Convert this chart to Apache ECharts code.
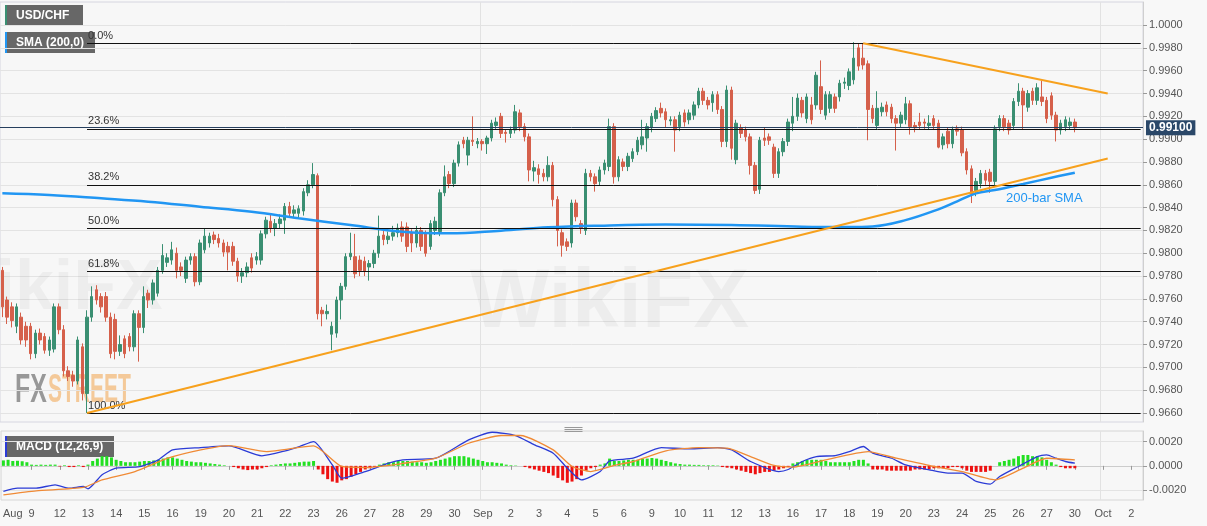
<!DOCTYPE html>
<html><head><meta charset="utf-8">
<script src="https://cdn.jsdelivr.net/npm/echarts@6/dist/echarts.min.js"></script>
<style>html,body{margin:0;padding:0;background:#f8f8f8}#c{width:1207px;height:526px}</style>
</head><body><div id="c"></div>
<script>
// ---------- DATA ----------
const dayLabels = ['9','12','13','14','15','16','19','20','21','22','23','26','27','28','29','30','Sep','2','3','4','5','6','9','10','11','12','13','16','17','18','19','20','23','24','25','26','27','30','Oct','2'];
const monthLabel = 'Aug';
const yTicks = [0.966,0.968,0.970,0.972,0.974,0.976,0.978,0.980,0.982,0.984,0.986,0.988,0.990,0.992,0.994,0.996,0.998,1.000];
const macdTicks = [-0.002,0,0.002];

const openP = [
0.9785,0.9759,0.9753,0.9736,0.9744,0.9736,0.9736,0.9712,0.9730,0.9727,
0.9715,0.9716,0.9753,0.9733,0.9697,0.9693,0.9688,0.9718,0.9677,0.9744,
0.9768,0.9762,0.9762,0.9744,0.9742,0.9714,0.9725,0.9727,0.9718,0.9747,
0.9735,0.9765,0.9759,0.9765,0.9785,0.9792,0.9794,0.9800,0.9788,0.9778,
0.9794,0.9797,0.9775,0.9803,0.9809,0.9816,0.9813,0.9809,0.9806,0.9806,
0.9793,0.9780,0.9783,0.9796,0.9794,0.9794,0.9817,0.9828,0.9822,0.9826,
0.9829,0.9841,0.9835,0.9835,0.9837,0.9853,0.9860,0.9868,0.9750,0.9747,
0.9729,0.9730,0.9759,0.9771,0.9797,0.9797,0.9794,0.9793,0.9788,0.9791,
0.9800,0.9816,0.9812,0.9815,0.9818,0.9823,0.9823,0.9818,0.9809,0.9820,
0.9817,0.9806,0.9820,0.9819,0.9853,0.9869,0.9861,0.9879,0.9899,0.9886,
0.9899,0.9896,0.9898,0.9896,0.9901,0.9912,0.9920,0.9906,0.9905,0.9908,
0.9923,0.9911,0.9902,0.9872,0.9874,0.9870,0.9867,0.9877,0.9847,0.9818,
0.9810,0.9809,0.9844,0.9826,0.9820,0.9870,0.9867,0.9863,0.9873,0.9876,
0.9911,0.9867,0.9880,0.9876,0.9883,0.9889,0.9895,0.9901,0.9910,0.9918,
0.9927,0.9924,0.9916,0.9917,0.9911,0.9923,0.9917,0.9921,0.9930,0.9942,
0.9934,0.9932,0.9939,0.9926,0.9898,0.9943,0.9882,0.9910,0.9908,0.9902,
0.9877,0.9856,0.9901,0.9902,0.9893,0.9870,0.9889,0.9898,0.9914,0.9920,
0.9934,0.9918,0.9930,0.9930,0.9946,0.9921,0.9927,0.9937,0.9937,0.9949,
0.9947,0.9952,0.9980,0.9971,0.9966,0.9927,0.9912,0.9924,0.9930,0.9928,
0.9918,0.9914,0.9917,0.9931,0.9912,0.9915,0.9915,0.9912,0.9918,0.9914,
0.9895,0.9907,0.9896,0.9909,0.9908,0.9889,0.9874,0.9855,0.9861,0.9870,
0.9871,0.9863,0.9911,0.9918,0.9914,0.9912,0.9933,0.9942,0.9928,0.9942,
0.9934,0.9937,0.9934,0.9938,0.9921,0.9908,0.9911,0.9912,0.9915];
const closeP = [
0.9753,0.9744,0.9741,0.9753,0.9724,0.9724,0.9712,0.9730,0.9724,0.9715,
0.9724,0.9753,0.9733,0.9697,0.9692,0.9688,0.9724,0.9677,0.9744,0.9762,
0.9759,0.9753,0.9744,0.9712,0.9714,0.9720,0.9712,0.9718,0.9747,0.9735,
0.9762,0.9759,0.9774,0.9785,0.9798,0.9796,0.9803,0.9785,0.9785,0.9794,
0.9797,0.9775,0.9809,0.9815,0.9815,0.9812,0.9809,0.9801,0.9801,0.9793,
0.9780,0.9783,0.9788,0.9787,0.9797,0.9817,0.9829,0.9822,0.9826,0.9830,
0.9841,0.9835,0.9838,0.9839,0.9854,0.9860,0.9869,0.9747,0.9747,0.9749,
0.9736,0.9759,0.9771,0.9797,0.9800,0.9782,0.9785,0.9784,0.9791,0.9800,
0.9815,0.9812,0.9815,0.9818,0.9822,0.9815,0.9806,0.9809,0.9820,0.9806,
0.9800,0.9826,0.9828,0.9853,0.9867,0.9861,0.9879,0.9895,0.9896,0.9899,
0.9898,0.9898,0.9896,0.9901,0.9914,0.9915,0.9905,0.9905,0.9908,0.9924,
0.9911,0.9902,0.9873,0.9875,0.9869,0.9867,0.9877,0.9847,0.9820,0.9807,
0.9806,0.9844,0.9832,0.9822,0.9870,0.9867,0.9861,0.9873,0.9879,0.9911,
0.9867,0.9882,0.9876,0.9885,0.9889,0.9899,0.9902,0.9911,0.9920,0.9925,
0.9923,0.9917,0.9917,0.9908,0.9921,0.9915,0.9923,0.9930,0.9942,0.9934,
0.9930,0.9939,0.9926,0.9898,0.9943,0.9892,0.9914,0.9905,0.9902,0.9877,
0.9855,0.9899,0.9899,0.9899,0.9870,0.9889,0.9898,0.9915,0.9920,0.9936,
0.9923,0.9937,0.9917,0.9956,0.9926,0.9939,0.9939,0.9927,0.9949,0.9950,
0.9959,0.9971,0.9964,0.9965,0.9926,0.9918,0.9927,0.9928,0.9924,0.9918,
0.9914,0.9921,0.9931,0.9911,0.9910,0.9912,0.9914,0.9914,0.9912,0.9893,
0.9902,0.9896,0.9908,0.9907,0.9888,0.9873,0.9852,0.9863,0.9870,0.9864,
0.9863,0.9909,0.9918,0.9911,0.9908,0.9933,0.9942,0.9930,0.9940,0.9934,
0.9945,0.9933,0.9918,0.9921,0.9908,0.9914,0.9917,0.9915,0.9910];
const lowP = [
0.9744,0.9738,0.9735,0.9730,0.9720,0.9718,0.9707,0.9708,0.9720,0.9712,
0.9710,0.9713,0.9729,0.9692,0.9688,0.9683,0.9685,0.9671,0.9660,0.9740,
0.9755,0.9748,0.9740,0.9708,0.9707,0.9710,0.9708,0.9714,0.9714,0.9705,
0.9730,0.9752,0.9755,0.9762,0.9782,0.9788,0.9790,0.9778,0.9780,0.9774,
0.9790,0.9771,0.9772,0.9800,0.9805,0.9808,0.9805,0.9797,0.9785,0.9789,
0.9775,0.9774,0.9779,0.9783,0.9790,0.9790,0.9813,0.9818,0.9815,0.9822,
0.9817,0.9831,0.9831,0.9830,0.9833,0.9850,0.9857,0.9742,0.9736,0.9742,
0.9715,0.9726,0.9742,0.9768,0.9794,0.9778,0.9780,0.9780,0.9776,0.9787,
0.9796,0.9807,0.9808,0.9811,0.9814,0.9810,0.9801,0.9801,0.9805,0.9802,
0.9797,0.9803,0.9816,0.9815,0.9850,0.9857,0.9858,0.9876,0.9892,0.9877,
0.9894,0.9892,0.9890,0.9887,0.9898,0.9909,0.9901,0.9897,0.9901,0.9905,
0.9907,0.9898,0.9863,0.9863,0.9861,0.9863,0.9863,0.9841,0.9806,0.9797,
0.9802,0.9805,0.9828,0.9817,0.9816,0.9863,0.9854,0.9859,0.9869,0.9872,
0.9861,0.9863,0.9872,0.9872,0.9880,0.9886,0.9891,0.9889,0.9906,0.9915,
0.9919,0.9910,0.9912,0.9889,0.9907,0.9911,0.9913,0.9917,0.9927,0.9930,
0.9926,0.9924,0.9922,0.9893,0.9893,0.9882,0.9878,0.9901,0.9898,0.9869,
0.9852,0.9852,0.9894,0.9895,0.9866,0.9866,0.9885,0.9894,0.9907,0.9916,
0.9919,0.9914,0.9913,0.9926,0.9922,0.9917,0.9923,0.9923,0.9933,0.9944,
0.9943,0.9948,0.9960,0.9961,0.9899,0.9914,0.9908,0.9920,0.9920,0.9914,
0.9890,0.9910,0.9913,0.9904,0.9906,0.9908,0.9909,0.9908,0.9908,0.9892,
0.9891,0.9892,0.9892,0.9903,0.9885,0.9869,0.9844,0.9850,0.9857,0.9860,
0.9853,0.9858,0.9907,0.9907,0.9904,0.9908,0.9929,0.9908,0.9924,0.9930,
0.9930,0.9929,0.9914,0.9917,0.9898,0.9904,0.9907,0.9908,0.9906];
const highP = [
0.9788,0.9762,0.9757,0.9756,0.9748,0.9740,0.9739,0.9733,0.9734,0.9730,
0.9727,0.9756,0.9756,0.9737,0.9701,0.9697,0.9727,0.9721,0.9750,0.9771,
0.9772,0.9765,0.9766,0.9748,0.9747,0.9728,0.9728,0.9730,0.9750,0.9750,
0.9771,0.9768,0.9777,0.9788,0.9808,0.9800,0.9810,0.9805,0.9792,0.9797,
0.9800,0.9800,0.9812,0.9822,0.9818,0.9819,0.9817,0.9812,0.9810,0.9810,
0.9796,0.9787,0.9792,0.9800,0.9801,0.9820,0.9832,0.9834,0.9830,0.9834,
0.9844,0.9845,0.9842,0.9842,0.9857,0.9864,0.9879,0.9870,0.9753,0.9755,
0.9740,0.9762,0.9774,0.9800,0.9818,0.9817,0.9798,0.9797,0.9794,0.9803,
0.9833,0.9820,0.9819,0.9824,0.9826,0.9828,0.9827,0.9821,0.9824,0.9823,
0.9820,0.9829,0.9832,0.9856,0.9877,0.9872,0.9882,0.9898,0.9902,0.9902,
0.9920,0.9901,0.9900,0.9903,0.9917,0.9919,0.9923,0.9908,0.9911,0.9930,
0.9926,0.9914,0.9905,0.9881,0.9878,0.9874,0.9885,0.9880,0.9850,0.9821,
0.9813,0.9847,0.9847,0.9829,0.9874,0.9873,0.9870,0.9876,0.9882,0.9918,
0.9914,0.9885,0.9883,0.9888,0.9892,0.9902,0.9917,0.9914,0.9923,0.9928,
0.9932,0.9927,0.9920,0.9920,0.9924,0.9926,0.9926,0.9933,0.9945,0.9945,
0.9937,0.9942,0.9942,0.9929,0.9947,0.9946,0.9917,0.9913,0.9911,0.9905,
0.9880,0.9902,0.9910,0.9905,0.9896,0.9892,0.9901,0.9918,0.9937,0.9940,
0.9937,0.9940,0.9937,0.9959,0.9969,0.9942,0.9942,0.9940,0.9952,0.9954,
0.9962,0.9985,0.9984,0.9984,0.9969,0.9930,0.9942,0.9932,0.9933,0.9931,
0.9921,0.9924,0.9937,0.9934,0.9915,0.9923,0.9918,0.9921,0.9921,0.9917,
0.9905,0.9910,0.9911,0.9912,0.9911,0.9892,0.9877,0.9866,0.9873,0.9873,
0.9874,0.9912,0.9921,0.9921,0.9917,0.9936,0.9949,0.9945,0.9943,0.9945,
0.9949,0.9951,0.9937,0.9941,0.9924,0.9917,0.9920,0.9919,0.9918];

// 200-bar SMA read at points: [bar index, value]
const smaPts = [[0,0.98525],[10,0.98510],[21,0.98481],[31,0.98452],[42,0.98408],[53,0.98364],[63,0.98306],[74,0.98247],[85,0.98189],[95,0.98175],[106,0.98198],[116,0.98227],[127,0.98242],[141,0.98251],[155,0.98248],[170,0.98233],[180,0.98230],[185,0.98235],[192,0.98290],[199,0.98385],[203,0.98455],[207,0.98525],[211,0.98554],[217,0.98607],[223,0.98662],[228,0.98706]];

// trend lines: [bar index, value]
const supportLine = [[18,0.9660],[235,0.9883]];
const resistLine = [[183,0.9984],[235,0.9940]];

// Fibonacci retracement levels
const fibNames = ['0.0%','23.6%','38.2%','50.0%','61.8%','100.0%'];
const fibLevels = [0.9984,0.9909,0.9860,0.9822,0.9784,0.9660];
const fibStart = 18;
const lastPrice = 0.99100;

// MACD histogram per bar
const macdHist = [
0.00045,0.0005,0.0004,0.00042,0.00038,0.0003,
0.0001,0.00008,0.0001,0.00008,0.0001,0.0001,
-0.00005,0.00005,-0.0001,-0.0001,0.00005,-0.0001,0.0001,
0.0004,0.0006,0.0008,0.0008,0.0007,
0.0005,0.0004,0.0003,0.0003,0.0003,0.00035,0.0004,0.0004,
0.00045,0.0005,0.0006,0.0007,0.0007,0.0006,0.0005,
0.0004,0.00035,0.0003,0.0003,0.00025,0.0002,0.00015,0.0001,
0.00005,0,
-0.0001,-0.0002,-0.0003,-0.00035,-0.0003,-0.0003,-0.0002,-0.0001,
0.00005,0.0001,0.00015,0.0002,0.0002,0.00025,0.0003,0.00035,0.00035,0.0004,
-0.0003,-0.0007,-0.0011,-0.0013,-0.0014,-0.0012,-0.0011,-0.0009,-0.0007,-0.0005,-0.0003,-0.0002,-0.0001,
0.0001,0.0002,0.0003,0.0003,0.0004,
0.0004,0.0004,0.00035,0.0003,0.0003,0.00025,0.0003,
0.0004,0.0005,0.0006,0.0007,0.0008,0.0008,0.0008,0.0007,0.0006,0.0005,
0.0004,0.0003,0.0003,0.00025,0.0002,0.0001,0.00005,
0.00003,0,
-0.0001,-0.0002,-0.0003,-0.0004,-0.0005,-0.0006,-0.0008,-0.001,-0.0012,-0.0014,-0.0013,-0.0011,-0.0008,-0.0004,
-0.0002,-0.0001,
0.0001,0.0002,0.0006,
0.0004,0.0004,0.00045,0.0005,0.0005,0.0005,0.0006,0.0006,0.00065,0.0006,0.0005,0.0004,0.0003,
0.0002,0.00015,0.0001,0.0001,0.00008,0.00008,0.00005,0.00005,0.00005,0.00003,
-0.0001,-0.00015,-0.0002,-0.0003,-0.0004,-0.0005,-0.0006,-0.0007,-0.0006,-0.0005,-0.0005,-0.0004,-0.0003,-0.0002,-0.0001,
0.0002,0.0003,0.0004,0.0005,0.0005,0.0005,0.0005,0.0004,0.0003,0.0003,0.0003,0.0003,0.0003,0.0004,0.0005,0.0005,0.0002,
-0.0003,-0.0003,-0.0003,-0.0004,-0.0004,-0.0004,-0.0004,-0.0004,-0.0004,-0.0003,-0.0003,-0.0003,-0.0003,-0.0002,-0.0002,-0.0002,-0.0002,-0.0001,-0.0001,-0.0002,-0.0004,-0.0005,-0.0005,-0.0005,-0.0005,-0.0004,
0,0.0003,0.0004,0.0005,0.0006,0.0008,0.0009,0.0009,0.0008,0.0008,0.0007,0.0005,0.0003,0.0001,
-0.0001,-0.0002,-0.0002,-0.0002];

// MACD and signal lines read at points: [bar index, value]
const macdPts = [[0,-0.00212],[3,-0.00185],[7,-0.00185],[11,-0.00157],[14,-0.00185],[17,-0.00171],[18,-0.0019],[21,-0.00074],[24,-0.00019],[29,-0.00006],[33,0.0005],[36,0.00132],[42,0.00151],[48,0.00165],[55,0.00083],[60,0.00124],[63,0.0016],[66,0.00201],[70,0.00008],[72,-0.00102],[77,-0.00047],[82,0.00022],[85,0.0005],[92,0.00063],[99,0.00215],[104,0.00278],[109,0.00251],[113,0.00174],[117,0.00105],[120,-0.00019],[123,-0.00116],[127,-0.00047],[129,0.00041],[134,0.00063],[140,0.00151],[146,0.0014],[152,0.00151],[155,0.00132],[159,0.00036],[165,-0.00047],[167,-0.0003],[170,0.00036],[173,0.00077],[177,0.00085],[180,0.00118],[183,0.0016],[185,0.00105],[189,0.00063],[192,0.00008],[197,-0.00033],[201,-0.0006],[204,-0.0006],[207,-0.00129],[210,-0.00151],[212,-0.00088],[216,-0.00005],[220,0.00077],[222,0.00091],[224,0.00063],[226,0.00036],[228,0.00022]];
const signalPts = [[0,-0.0024],[7,-0.00207],[17,-0.00179],[21,-0.00116],[28,-0.00047],[35,0.00063],[42,0.00132],[48,0.00168],[56,0.00118],[66,0.00165],[72,-0.00005],[77,-0.00014],[85,0.0002],[92,0.00063],[99,0.00187],[106,0.00251],[110,0.00251],[117,0.00132],[121,-0.00005],[125,-0.00047],[130,0.00003],[134,0.00036],[141,0.00124],[148,0.00151],[154,0.00146],[159,0.00077],[164,0.00003],[168,-0.0001],[175,0.0005],[184,0.00118],[190,0.00063],[197,0.00003],[204,-0.00047],[211,-0.00116],[217,-0.00019],[222,0.00063],[228,0.0005]];

// ---------- BUILD ----------
const N = 243;
const cats = new Array(N).fill('');
cats[2] = monthLabel;
dayLabels.forEach((t, d) => { cats[6 + 6 * d] = t; });
const candles = openP.map((o, i) => [o, closeP[i], lowP[i], highP[i]]);
const isMonth = (i, v) => v === 'Sep' || v === 'Oct';

const UP = '#3a8f72', DOWN = '#d5604b';
const FONT = '"Liberation Sans", Arial, sans-serif';

const fibMarks = fibLevels.map((v, k) => [
  {coord: [fibStart, v], lineStyle: {color: '#111', width: 1, type: 'solid'},
   label: {show: true, formatter: fibNames[k], position: 'insideStartTop', distance: [1, 2], color: '#333', fontSize: 11, fontFamily: FONT}},
  {coord: [N - 1, v]}
]);

const chart = echarts.init(document.getElementById('c'));
chart.setOption({
  animation: false,
  backgroundColor: '#f8f8f8',
  grid: [
    {left: 0, right: 64, top: 2, height: 420, show: true, backgroundColor: '#f7f7f7', borderColor: '#d6d6e0', borderWidth: 1},
    {left: 0, right: 64, top: 431, height: 69, show: true, backgroundColor: '#f7f7f7', borderColor: '#d6d6d6', borderWidth: 1}
  ],
  xAxis: [
    {type: 'category', gridIndex: 0, data: cats, boundaryGap: true,
     axisLine: {show: false}, axisTick: {show: false}, axisLabel: {show: false},
     splitLine: {show: true, interval: isMonth, lineStyle: {color: '#e2e2e2'}}},
    {type: 'category', gridIndex: 1, data: cats, boundaryGap: true,
     axisLine: {show: true, lineStyle: {color: '#cccccc'}},
     axisTick: {show: true, length: 4, alignWithLabel: true, interval: (i, v) => v !== '' && v !== monthLabel, lineStyle: {color: '#999'}},
     axisLabel: {interval: (i, v) => v !== '', color: '#555', fontSize: 11, fontFamily: FONT, margin: 8},
     splitLine: {show: true, interval: isMonth, lineStyle: {color: '#e2e2e2'}}}
  ],
  yAxis: [
    {type: 'value', gridIndex: 0, position: 'right', min: 0.96521, max: 1.00202,
     axisLine: {show: true, lineStyle: {color: '#cfcfcf'}},
     axisTick: {show: true, length: 4, customValues: yTicks, lineStyle: {color: '#999'}},
     axisLabel: {customValues: yTicks, formatter: v => v.toFixed(4), color: '#555', fontSize: 11, fontFamily: FONT, margin: 6},
     splitLine: {show: true, lineStyle: {color: '#e3e3e3'}}},
    {type: 'value', gridIndex: 1, position: 'right', min: -0.002826, max: 0.002884,
     axisLine: {show: true, lineStyle: {color: '#cfcfcf'}},
     axisTick: {show: true, length: 4, customValues: macdTicks, lineStyle: {color: '#999'}},
     axisLabel: {customValues: macdTicks, formatter: v => v.toFixed(4), color: '#555', fontSize: 11, fontFamily: FONT, margin: 6},
     splitLine: {show: true, lineStyle: {color: '#e3e3e3'}}}
  ],
  series: [
    {type: 'candlestick', xAxisIndex: 0, yAxisIndex: 0, data: candles, barWidth: 3, z: 3,
     itemStyle: {color: UP, color0: DOWN, borderColor: UP, borderColor0: DOWN, borderWidth: 1},
     markLine: {silent: true, symbol: 'none', animation: false, precision: 6,
       data: fibMarks.concat([{yAxis: lastPrice, lineStyle: {color: '#263f5e', width: 1, type: 'solid'},
         label: {show: true, position: 'end', distance: 3, formatter: lastPrice.toFixed(5), backgroundColor: '#2b4869', color: '#fff', fontWeight: 'bold', fontSize: 12, fontFamily: FONT, padding: [2, 3, 1, 3]}}])}},
    {type: 'line', xAxisIndex: 0, yAxisIndex: 0, data: smaPts, smooth: 0.4, symbol: 'none', z: 4,
     lineStyle: {color: '#2196f3', width: 2.5}},
    {type: 'line', xAxisIndex: 0, yAxisIndex: 0, data: supportLine, symbol: 'none', z: 5,
     lineStyle: {color: '#f7a11d', width: 2}},
    {type: 'line', xAxisIndex: 0, yAxisIndex: 0, data: resistLine, symbol: 'none', z: 5,
     lineStyle: {color: '#f7a11d', width: 2}},
    {type: 'bar', xAxisIndex: 1, yAxisIndex: 1, data: macdHist, barWidth: 3, z: 3,
     itemStyle: {color: p => p.value >= 0 ? '#22e022' : '#ee1111'}},
    {type: 'line', xAxisIndex: 1, yAxisIndex: 1, data: macdPts, smooth: 0.2, symbol: 'none', z: 4,
     lineStyle: {color: '#2b3bd6', width: 1.3}},
    {type: 'line', xAxisIndex: 1, yAxisIndex: 1, data: signalPts, smooth: 0.2, symbol: 'none', z: 4,
     lineStyle: {color: '#f08a35', width: 1.3}}
  ],
  graphic: [
    {type: 'text', left: 470, top: 262, z: 1, silent: true,
     style: {text: 'WikiFX', fill: 'rgba(0,0,0,0.04)', font: 'bold 84px ' + FONT}},
    {type: 'text', left: -70, top: 255, z: 1, silent: true,
     style: {text: 'WikiFX', fill: 'rgba(0,0,0,0.04)', font: 'bold 70px ' + FONT}},
    {type: 'group', left: 15, top: 371, z: 6, scaleX: 0.62, children: [
      {type: 'text', x: 0, y: 0, style: {text: 'FX', fill: 'rgba(120,120,120,0.75)', font: 'bold 40px ' + FONT}}
    ]},
    {type: 'group', left: 48, top: 371, z: 6, scaleX: 0.525, children: [
      {type: 'text', x: 0, y: 0, style: {text: 'STREET', fill: 'rgba(242,170,90,0.6)', font: 'bold 40px ' + FONT}}
    ]},
    {type: 'text', left: 1006, top: 192, z: 10,
     style: {text: '200-bar SMA', fill: '#2196f3', font: '13px ' + FONT}},
    {type: 'group', left: 5, top: 5, z: 2, children: [
      {type: 'rect', shape: {x: 0, y: 0, width: 78, height: 21}, style: {fill: 'rgba(95,95,95,0.95)'}},
      {type: 'rect', shape: {x: 0, y: 0, width: 2, height: 21}, style: {fill: '#3a8f72'}},
      {type: 'text', x: 11, y: 11, style: {text: 'USD/CHF', fill: '#fff', font: 'bold 12px ' + FONT, verticalAlign: 'middle'}}
    ]},
    {type: 'group', left: 5, top: 32, z: 2, children: [
      {type: 'rect', shape: {x: 0, y: 0, width: 90, height: 21}, style: {fill: 'rgba(95,95,95,0.95)'}},
      {type: 'rect', shape: {x: 0, y: 0, width: 2, height: 21}, style: {fill: '#2196f3'}},
      {type: 'text', x: 11, y: 11, style: {text: 'SMA (200,0)', fill: '#fff', font: 'bold 12px ' + FONT, verticalAlign: 'middle'}}
    ]},
    {type: 'group', left: 5, top: 436, z: 20, children: [
      {type: 'rect', shape: {x: 0, y: 0, width: 109, height: 21}, style: {fill: 'rgba(95,95,95,0.95)'}},
      {type: 'rect', shape: {x: 0, y: 0, width: 2, height: 21}, style: {fill: '#2b3bd6'}},
      {type: 'text', x: 11, y: 11, style: {text: 'MACD (12,26,9)', fill: '#fff', font: 'bold 12px ' + FONT, verticalAlign: 'middle'}}
    ]},
    {type: 'group', left: 562, top: 425, z: 20, children: [
      {type: 'line', shape: {x1: 0, y1: 0.5, x2: 18, y2: 0.5}, style: {stroke: '#999', lineWidth: 1}},
      {type: 'line', shape: {x1: 0, y1: 2.5, x2: 18, y2: 2.5}, style: {stroke: '#999', lineWidth: 1}},
      {type: 'line', shape: {x1: 0, y1: 4.5, x2: 18, y2: 4.5}, style: {stroke: '#999', lineWidth: 1}}
    ]}
  ]
});
</script>
</body></html>
